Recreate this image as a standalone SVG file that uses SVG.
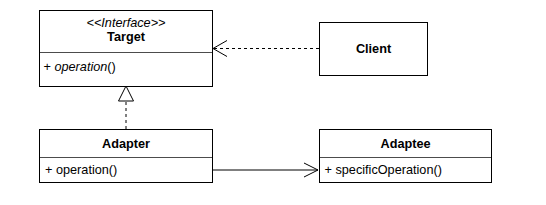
<svg xmlns="http://www.w3.org/2000/svg" width="546" height="205" viewBox="0 0 546 205">
<style>
.box{fill:#fff;stroke:#000;stroke-width:1}
.div{stroke:#000;stroke-width:1;fill:none;opacity:0.7}
text{font-family:"Liberation Sans",Arial,sans-serif;font-size:12.7px;fill:#000}
.b{font-weight:bold}
.i{font-style:italic}
.c{text-anchor:middle}
.ln{stroke:#000;stroke-width:1;fill:none}
.dash{stroke-dasharray:3,3}
</style>
<rect width="546" height="205" fill="#fff"/>
<g id="connectors">
<path class="ln dash" d="M319 48.5 H213"/>
<path class="ln" d="M227 40.5 L213 48.5 L227 56.5"/>
<path class="ln dash" d="M126 129 V101"/>
<path d="M126 86 L118.5 101 L133.5 101 Z" fill="#fff" stroke="#000"/>
<path class="ln" d="M212 170 H318"/>
<path class="ln" d="M304 163 L318 170 L304 177"/>
</g>
<g id="target">
<rect class="box" x="39.5" y="10.5" width="173" height="76"/>
<line class="div" x1="39.5" y1="52.5" x2="212.5" y2="52.5"/>
<text class="i c" x="126" y="27">&lt;&lt;Interface&gt;&gt;</text>
<text class="b c" x="126" y="41">Target</text>
<text x="43.5" y="71">+ <tspan class="i">operation</tspan>()</text>
</g>
<g id="client">
<rect class="box" x="319.5" y="22.5" width="108" height="53"/>
<text class="b c" x="373.5" y="53">Client</text>
</g>
<g id="adapter">
<rect class="box" x="39.5" y="129.5" width="173" height="53"/>
<line class="div" x1="39.5" y1="157.5" x2="212.5" y2="157.5"/>
<text class="b c" x="126" y="147.5">Adapter</text>
<text x="45" y="174">+ operation()</text>
</g>
<g id="adaptee">
<rect class="box" x="319.5" y="129.5" width="172" height="53"/>
<line class="div" x1="319.5" y1="157.5" x2="491.5" y2="157.5"/>
<text class="b c" x="405.5" y="147.5">Adaptee</text>
<text x="324.5" y="174">+ specificOperation()</text>
</g>
</svg>
